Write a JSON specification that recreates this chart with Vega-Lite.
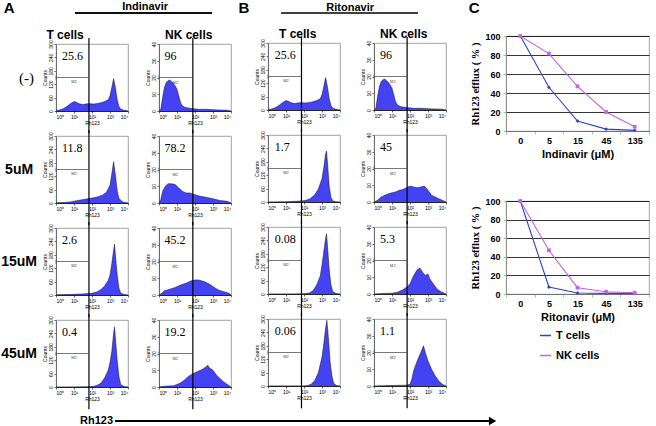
{
"$schema":"https://vega.github.io/schema/vega-lite/v6.json",
"background":"white",
"padding":{"left":0,"top":0,"right":0,"bottom":0},
"autosize":{"type":"pad"},
"config":{
 "font":"Liberation Sans",
 "view":{"stroke":"#8a8a8a","strokeWidth":0.8},
 "axis":{"labelFontSize":5,"titleFontSize":5,"titleFontWeight":"normal","tickSize":2,"labelPadding":1,"titlePadding":1,"domainColor":"black","tickColor":"black","labelColor":"black","titleColor":"black","grid":false,"domainWidth":0.8,"tickWidth":0.6,"labelFont":"Liberation Sans","titleFont":"Liberation Sans","labelOverlap":false},
 "title":{"color":"black","font":"Liberation Sans"}
},
"datasets":{
"h":[
{"col":"AT","conc":"(-)","label":"25.6"},
{"col":"AT","conc":"5uM","label":"11.8"},
{"col":"AT","conc":"15uM","label":"2.6"},
{"col":"AT","conc":"45uM","label":"0.4"},
{"col":"ANK","conc":"(-)","label":"96"},
{"col":"ANK","conc":"5uM","label":"78.2"},
{"col":"ANK","conc":"15uM","label":"45.2"},
{"col":"ANK","conc":"45uM","label":"19.2"},
{"col":"BT","conc":"(-)","label":"25.6"},
{"col":"BT","conc":"5uM","label":"1.7"},
{"col":"BT","conc":"15uM","label":"0.08"},
{"col":"BT","conc":"45uM","label":"0.06"},
{"col":"BNK","conc":"(-)","label":"96"},
{"col":"BNK","conc":"5uM","label":"45"},
{"col":"BNK","conc":"15uM","label":"5.3"},
{"col":"BNK","conc":"45uM","label":"1.1"},
{"col":"AT","conc":"(-)","x":0,"n":2},{"col":"AT","conc":"(-)","x":0.2,"n":5},{"col":"AT","conc":"(-)","x":0.4,"n":10},{"col":"AT","conc":"(-)","x":0.6,"n":20},{"col":"AT","conc":"(-)","x":0.8,"n":33},{"col":"AT","conc":"(-)","x":1,"n":42},{"col":"AT","conc":"(-)","x":1.1,"n":40},{"col":"AT","conc":"(-)","x":1.3,"n":32},{"col":"AT","conc":"(-)","x":1.5,"n":29},{"col":"AT","conc":"(-)","x":1.7,"n":32},{"col":"AT","conc":"(-)","x":1.9,"n":33},{"col":"AT","conc":"(-)","x":2.1,"n":31},{"col":"AT","conc":"(-)","x":2.3,"n":34},{"col":"AT","conc":"(-)","x":2.5,"n":37},{"col":"AT","conc":"(-)","x":2.7,"n":42},{"col":"AT","conc":"(-)","x":2.9,"n":50},{"col":"AT","conc":"(-)","x":3,"n":68},{"col":"AT","conc":"(-)","x":3.1,"n":105},{"col":"AT","conc":"(-)","x":3.2,"n":145},{"col":"AT","conc":"(-)","x":3.3,"n":105},{"col":"AT","conc":"(-)","x":3.4,"n":50},{"col":"AT","conc":"(-)","x":3.5,"n":20},{"col":"AT","conc":"(-)","x":3.6,"n":8},{"col":"AT","conc":"(-)","x":3.8,"n":3},{"col":"AT","conc":"(-)","x":4,"n":0},
{"col":"AT","conc":"5uM","x":0,"n":1},{"col":"AT","conc":"5uM","x":0.4,"n":2},{"col":"AT","conc":"5uM","x":0.8,"n":5},{"col":"AT","conc":"5uM","x":1.2,"n":11},{"col":"AT","conc":"5uM","x":1.6,"n":17},{"col":"AT","conc":"5uM","x":2,"n":22},{"col":"AT","conc":"5uM","x":2.3,"n":27},{"col":"AT","conc":"5uM","x":2.6,"n":36},{"col":"AT","conc":"5uM","x":2.8,"n":48},{"col":"AT","conc":"5uM","x":3,"n":80},{"col":"AT","conc":"5uM","x":3.1,"n":130},{"col":"AT","conc":"5uM","x":3.2,"n":185},{"col":"AT","conc":"5uM","x":3.3,"n":125},{"col":"AT","conc":"5uM","x":3.4,"n":55},{"col":"AT","conc":"5uM","x":3.5,"n":20},{"col":"AT","conc":"5uM","x":3.7,"n":5},{"col":"AT","conc":"5uM","x":4,"n":0},
{"col":"AT","conc":"15uM","x":0,"n":1},{"col":"AT","conc":"15uM","x":0.5,"n":2},{"col":"AT","conc":"15uM","x":1,"n":3},{"col":"AT","conc":"15uM","x":1.5,"n":5},{"col":"AT","conc":"15uM","x":2,"n":8},{"col":"AT","conc":"15uM","x":2.3,"n":15},{"col":"AT","conc":"15uM","x":2.5,"n":25},{"col":"AT","conc":"15uM","x":2.7,"n":40},{"col":"AT","conc":"15uM","x":2.9,"n":65},{"col":"AT","conc":"15uM","x":3,"n":90},{"col":"AT","conc":"15uM","x":3.1,"n":140},{"col":"AT","conc":"15uM","x":3.2,"n":200},{"col":"AT","conc":"15uM","x":3.25,"n":228},{"col":"AT","conc":"15uM","x":3.3,"n":180},{"col":"AT","conc":"15uM","x":3.4,"n":90},{"col":"AT","conc":"15uM","x":3.5,"n":30},{"col":"AT","conc":"15uM","x":3.6,"n":8},{"col":"AT","conc":"15uM","x":3.8,"n":2},{"col":"AT","conc":"15uM","x":4,"n":0},
{"col":"AT","conc":"45uM","x":0,"n":0},{"col":"AT","conc":"45uM","x":1,"n":0.5},{"col":"AT","conc":"45uM","x":1.8,"n":1},{"col":"AT","conc":"45uM","x":2.1,"n":3},{"col":"AT","conc":"45uM","x":2.3,"n":8},{"col":"AT","conc":"45uM","x":2.5,"n":18},{"col":"AT","conc":"45uM","x":2.7,"n":40},{"col":"AT","conc":"45uM","x":2.9,"n":75},{"col":"AT","conc":"45uM","x":3,"n":110},{"col":"AT","conc":"45uM","x":3.1,"n":160},{"col":"AT","conc":"45uM","x":3.2,"n":240},{"col":"AT","conc":"45uM","x":3.25,"n":269},{"col":"AT","conc":"45uM","x":3.3,"n":220},{"col":"AT","conc":"45uM","x":3.4,"n":120},{"col":"AT","conc":"45uM","x":3.5,"n":45},{"col":"AT","conc":"45uM","x":3.6,"n":10},{"col":"AT","conc":"45uM","x":3.8,"n":2},{"col":"AT","conc":"45uM","x":4,"n":0},
{"col":"ANK","conc":"(-)","x":0,"n":0},{"col":"ANK","conc":"(-)","x":0.1,"n":1},{"col":"ANK","conc":"(-)","x":0.2,"n":8},{"col":"ANK","conc":"(-)","x":0.3,"n":14},{"col":"ANK","conc":"(-)","x":0.4,"n":17},{"col":"ANK","conc":"(-)","x":0.5,"n":18},{"col":"ANK","conc":"(-)","x":0.6,"n":18.5},{"col":"ANK","conc":"(-)","x":0.7,"n":17.5},{"col":"ANK","conc":"(-)","x":0.8,"n":16.5},{"col":"ANK","conc":"(-)","x":0.9,"n":15},{"col":"ANK","conc":"(-)","x":1,"n":13},{"col":"ANK","conc":"(-)","x":1.1,"n":9},{"col":"ANK","conc":"(-)","x":1.2,"n":5},{"col":"ANK","conc":"(-)","x":1.3,"n":3},{"col":"ANK","conc":"(-)","x":1.5,"n":2},{"col":"ANK","conc":"(-)","x":1.8,"n":1.5},{"col":"ANK","conc":"(-)","x":2.2,"n":1},{"col":"ANK","conc":"(-)","x":2.6,"n":1},{"col":"ANK","conc":"(-)","x":3,"n":0.8},{"col":"ANK","conc":"(-)","x":3.4,"n":0.6},{"col":"ANK","conc":"(-)","x":3.8,"n":0.5},{"col":"ANK","conc":"(-)","x":4,"n":0},
{"col":"ANK","conc":"5uM","x":0,"n":0},{"col":"ANK","conc":"5uM","x":0.1,"n":2},{"col":"ANK","conc":"5uM","x":0.2,"n":7},{"col":"ANK","conc":"5uM","x":0.35,"n":10},{"col":"ANK","conc":"5uM","x":0.5,"n":11.5},{"col":"ANK","conc":"5uM","x":0.7,"n":11.5},{"col":"ANK","conc":"5uM","x":0.9,"n":11},{"col":"ANK","conc":"5uM","x":1.1,"n":9},{"col":"ANK","conc":"5uM","x":1.3,"n":7},{"col":"ANK","conc":"5uM","x":1.5,"n":6},{"col":"ANK","conc":"5uM","x":1.7,"n":6},{"col":"ANK","conc":"5uM","x":2,"n":5},{"col":"ANK","conc":"5uM","x":2.3,"n":4},{"col":"ANK","conc":"5uM","x":2.6,"n":3.5},{"col":"ANK","conc":"5uM","x":3,"n":2.5},{"col":"ANK","conc":"5uM","x":3.4,"n":1.5},{"col":"ANK","conc":"5uM","x":3.8,"n":1},{"col":"ANK","conc":"5uM","x":4,"n":0},
{"col":"ANK","conc":"15uM","x":0,"n":0},{"col":"ANK","conc":"15uM","x":0.15,"n":1},{"col":"ANK","conc":"15uM","x":0.3,"n":2.5},{"col":"ANK","conc":"15uM","x":0.6,"n":3.5},{"col":"ANK","conc":"15uM","x":0.9,"n":4.5},{"col":"ANK","conc":"15uM","x":1.2,"n":6},{"col":"ANK","conc":"15uM","x":1.5,"n":7},{"col":"ANK","conc":"15uM","x":1.8,"n":8.5},{"col":"ANK","conc":"15uM","x":2,"n":9},{"col":"ANK","conc":"15uM","x":2.2,"n":9},{"col":"ANK","conc":"15uM","x":2.5,"n":8},{"col":"ANK","conc":"15uM","x":2.8,"n":6.5},{"col":"ANK","conc":"15uM","x":3,"n":5},{"col":"ANK","conc":"15uM","x":3.3,"n":3},{"col":"ANK","conc":"15uM","x":3.6,"n":2},{"col":"ANK","conc":"15uM","x":3.9,"n":1},{"col":"ANK","conc":"15uM","x":4,"n":0},
{"col":"ANK","conc":"45uM","x":0,"n":0},{"col":"ANK","conc":"45uM","x":0.3,"n":0.5},{"col":"ANK","conc":"45uM","x":0.8,"n":0.8},{"col":"ANK","conc":"45uM","x":1,"n":1.5},{"col":"ANK","conc":"45uM","x":1.2,"n":2.5},{"col":"ANK","conc":"45uM","x":1.4,"n":4},{"col":"ANK","conc":"45uM","x":1.6,"n":6},{"col":"ANK","conc":"45uM","x":1.8,"n":7.5},{"col":"ANK","conc":"45uM","x":2,"n":8.5},{"col":"ANK","conc":"45uM","x":2.2,"n":9.5},{"col":"ANK","conc":"45uM","x":2.4,"n":10.5},{"col":"ANK","conc":"45uM","x":2.6,"n":12},{"col":"ANK","conc":"45uM","x":2.7,"n":13},{"col":"ANK","conc":"45uM","x":2.8,"n":11.5},{"col":"ANK","conc":"45uM","x":3,"n":10},{"col":"ANK","conc":"45uM","x":3.2,"n":7},{"col":"ANK","conc":"45uM","x":3.4,"n":5},{"col":"ANK","conc":"45uM","x":3.6,"n":3},{"col":"ANK","conc":"45uM","x":3.8,"n":1.5},{"col":"ANK","conc":"45uM","x":4,"n":0},
{"col":"BT","conc":"(-)","x":0,"n":2},{"col":"BT","conc":"(-)","x":0.2,"n":5},{"col":"BT","conc":"(-)","x":0.4,"n":10},{"col":"BT","conc":"(-)","x":0.6,"n":20},{"col":"BT","conc":"(-)","x":0.8,"n":33},{"col":"BT","conc":"(-)","x":1,"n":42},{"col":"BT","conc":"(-)","x":1.1,"n":40},{"col":"BT","conc":"(-)","x":1.3,"n":32},{"col":"BT","conc":"(-)","x":1.5,"n":29},{"col":"BT","conc":"(-)","x":1.7,"n":32},{"col":"BT","conc":"(-)","x":1.9,"n":33},{"col":"BT","conc":"(-)","x":2.1,"n":31},{"col":"BT","conc":"(-)","x":2.3,"n":34},{"col":"BT","conc":"(-)","x":2.5,"n":37},{"col":"BT","conc":"(-)","x":2.7,"n":42},{"col":"BT","conc":"(-)","x":2.9,"n":50},{"col":"BT","conc":"(-)","x":3,"n":68},{"col":"BT","conc":"(-)","x":3.1,"n":105},{"col":"BT","conc":"(-)","x":3.2,"n":145},{"col":"BT","conc":"(-)","x":3.3,"n":105},{"col":"BT","conc":"(-)","x":3.4,"n":50},{"col":"BT","conc":"(-)","x":3.5,"n":20},{"col":"BT","conc":"(-)","x":3.6,"n":8},{"col":"BT","conc":"(-)","x":3.8,"n":3},{"col":"BT","conc":"(-)","x":4,"n":0},
{"col":"BT","conc":"5uM","x":0,"n":0},{"col":"BT","conc":"5uM","x":1,"n":1},{"col":"BT","conc":"5uM","x":1.5,"n":3},{"col":"BT","conc":"5uM","x":2,"n":6},{"col":"BT","conc":"5uM","x":2.3,"n":12},{"col":"BT","conc":"5uM","x":2.6,"n":33},{"col":"BT","conc":"5uM","x":2.8,"n":58},{"col":"BT","conc":"5uM","x":3,"n":105},{"col":"BT","conc":"5uM","x":3.1,"n":155},{"col":"BT","conc":"5uM","x":3.2,"n":215},{"col":"BT","conc":"5uM","x":3.25,"n":228},{"col":"BT","conc":"5uM","x":3.3,"n":180},{"col":"BT","conc":"5uM","x":3.4,"n":70},{"col":"BT","conc":"5uM","x":3.5,"n":20},{"col":"BT","conc":"5uM","x":3.6,"n":5},{"col":"BT","conc":"5uM","x":3.8,"n":1},{"col":"BT","conc":"5uM","x":4,"n":0},
{"col":"BT","conc":"15uM","x":0,"n":0},{"col":"BT","conc":"15uM","x":1.5,"n":0.5},{"col":"BT","conc":"15uM","x":2,"n":1},{"col":"BT","conc":"15uM","x":2.3,"n":5},{"col":"BT","conc":"15uM","x":2.5,"n":15},{"col":"BT","conc":"15uM","x":2.7,"n":40},{"col":"BT","conc":"15uM","x":2.9,"n":80},{"col":"BT","conc":"15uM","x":3,"n":130},{"col":"BT","conc":"15uM","x":3.1,"n":190},{"col":"BT","conc":"15uM","x":3.2,"n":250},{"col":"BT","conc":"15uM","x":3.25,"n":270},{"col":"BT","conc":"15uM","x":3.3,"n":220},{"col":"BT","conc":"15uM","x":3.4,"n":110},{"col":"BT","conc":"15uM","x":3.5,"n":40},{"col":"BT","conc":"15uM","x":3.6,"n":10},{"col":"BT","conc":"15uM","x":3.8,"n":2},{"col":"BT","conc":"15uM","x":4,"n":0},
{"col":"BT","conc":"45uM","x":0,"n":0},{"col":"BT","conc":"45uM","x":2,"n":0.5},{"col":"BT","conc":"45uM","x":2.2,"n":2},{"col":"BT","conc":"45uM","x":2.4,"n":8},{"col":"BT","conc":"45uM","x":2.6,"n":25},{"col":"BT","conc":"45uM","x":2.8,"n":60},{"col":"BT","conc":"45uM","x":3,"n":130},{"col":"BT","conc":"45uM","x":3.1,"n":190},{"col":"BT","conc":"45uM","x":3.2,"n":260},{"col":"BT","conc":"45uM","x":3.27,"n":294},{"col":"BT","conc":"45uM","x":3.35,"n":220},{"col":"BT","conc":"45uM","x":3.45,"n":110},{"col":"BT","conc":"45uM","x":3.55,"n":45},{"col":"BT","conc":"45uM","x":3.65,"n":12},{"col":"BT","conc":"45uM","x":3.8,"n":2},{"col":"BT","conc":"45uM","x":4,"n":0},
{"col":"BNK","conc":"(-)","x":0,"n":0},{"col":"BNK","conc":"(-)","x":0.1,"n":1},{"col":"BNK","conc":"(-)","x":0.2,"n":8},{"col":"BNK","conc":"(-)","x":0.3,"n":14},{"col":"BNK","conc":"(-)","x":0.4,"n":17},{"col":"BNK","conc":"(-)","x":0.5,"n":18},{"col":"BNK","conc":"(-)","x":0.6,"n":18.5},{"col":"BNK","conc":"(-)","x":0.7,"n":17.5},{"col":"BNK","conc":"(-)","x":0.8,"n":16.5},{"col":"BNK","conc":"(-)","x":0.9,"n":15},{"col":"BNK","conc":"(-)","x":1,"n":13},{"col":"BNK","conc":"(-)","x":1.1,"n":9},{"col":"BNK","conc":"(-)","x":1.2,"n":5},{"col":"BNK","conc":"(-)","x":1.3,"n":3},{"col":"BNK","conc":"(-)","x":1.5,"n":2},{"col":"BNK","conc":"(-)","x":1.8,"n":1.5},{"col":"BNK","conc":"(-)","x":2.2,"n":1},{"col":"BNK","conc":"(-)","x":2.6,"n":1},{"col":"BNK","conc":"(-)","x":3,"n":0.8},{"col":"BNK","conc":"(-)","x":3.4,"n":0.6},{"col":"BNK","conc":"(-)","x":3.8,"n":0.5},{"col":"BNK","conc":"(-)","x":4,"n":0},
{"col":"BNK","conc":"5uM","x":0,"n":0},{"col":"BNK","conc":"5uM","x":0.2,"n":1},{"col":"BNK","conc":"5uM","x":0.4,"n":3},{"col":"BNK","conc":"5uM","x":0.6,"n":4},{"col":"BNK","conc":"5uM","x":0.8,"n":5},{"col":"BNK","conc":"5uM","x":1,"n":5.5},{"col":"BNK","conc":"5uM","x":1.2,"n":6},{"col":"BNK","conc":"5uM","x":1.4,"n":7},{"col":"BNK","conc":"5uM","x":1.6,"n":7.5},{"col":"BNK","conc":"5uM","x":1.8,"n":8.5},{"col":"BNK","conc":"5uM","x":2,"n":9.5},{"col":"BNK","conc":"5uM","x":2.2,"n":9},{"col":"BNK","conc":"5uM","x":2.4,"n":8.5},{"col":"BNK","conc":"5uM","x":2.6,"n":9},{"col":"BNK","conc":"5uM","x":2.8,"n":9.5},{"col":"BNK","conc":"5uM","x":3,"n":7},{"col":"BNK","conc":"5uM","x":3.2,"n":4},{"col":"BNK","conc":"5uM","x":3.4,"n":3},{"col":"BNK","conc":"5uM","x":3.6,"n":2},{"col":"BNK","conc":"5uM","x":3.8,"n":1},{"col":"BNK","conc":"5uM","x":4,"n":0},
{"col":"BNK","conc":"15uM","x":0,"n":0},{"col":"BNK","conc":"15uM","x":0.5,"n":0.3},{"col":"BNK","conc":"15uM","x":1,"n":0.5},{"col":"BNK","conc":"15uM","x":1.3,"n":1},{"col":"BNK","conc":"15uM","x":1.6,"n":2.5},{"col":"BNK","conc":"15uM","x":1.8,"n":4},{"col":"BNK","conc":"15uM","x":2,"n":6},{"col":"BNK","conc":"15uM","x":2.2,"n":11},{"col":"BNK","conc":"15uM","x":2.4,"n":14.5},{"col":"BNK","conc":"15uM","x":2.55,"n":15.5},{"col":"BNK","conc":"15uM","x":2.7,"n":13},{"col":"BNK","conc":"15uM","x":2.85,"n":11},{"col":"BNK","conc":"15uM","x":3,"n":12},{"col":"BNK","conc":"15uM","x":3.1,"n":9},{"col":"BNK","conc":"15uM","x":3.3,"n":6},{"col":"BNK","conc":"15uM","x":3.5,"n":3},{"col":"BNK","conc":"15uM","x":3.7,"n":1.5},{"col":"BNK","conc":"15uM","x":3.9,"n":0.5},{"col":"BNK","conc":"15uM","x":4,"n":0},
{"col":"BNK","conc":"45uM","x":0,"n":0},{"col":"BNK","conc":"45uM","x":1,"n":0.3},{"col":"BNK","conc":"45uM","x":1.8,"n":0.5},{"col":"BNK","conc":"45uM","x":2,"n":1},{"col":"BNK","conc":"45uM","x":2.1,"n":4},{"col":"BNK","conc":"45uM","x":2.2,"n":9},{"col":"BNK","conc":"45uM","x":2.4,"n":15},{"col":"BNK","conc":"45uM","x":2.6,"n":20},{"col":"BNK","conc":"45uM","x":2.75,"n":24},{"col":"BNK","conc":"45uM","x":2.85,"n":20},{"col":"BNK","conc":"45uM","x":3,"n":15},{"col":"BNK","conc":"45uM","x":3.2,"n":10},{"col":"BNK","conc":"45uM","x":3.4,"n":6},{"col":"BNK","conc":"45uM","x":3.6,"n":3},{"col":"BNK","conc":"45uM","x":3.8,"n":1},{"col":"BNK","conc":"45uM","x":4,"n":0}
],
"c":[
{"drug":"Indinavir","conc":"0","cell":"T cells","v":100},{"drug":"Indinavir","conc":"5","cell":"T cells","v":46},{"drug":"Indinavir","conc":"15","cell":"T cells","v":10.5},{"drug":"Indinavir","conc":"45","cell":"T cells","v":2},{"drug":"Indinavir","conc":"135","cell":"T cells","v":0.7},
{"drug":"Indinavir","conc":"0","cell":"NK cells","v":100},{"drug":"Indinavir","conc":"5","cell":"NK cells","v":81.5},{"drug":"Indinavir","conc":"15","cell":"NK cells","v":47},{"drug":"Indinavir","conc":"45","cell":"NK cells","v":20},{"drug":"Indinavir","conc":"135","cell":"NK cells","v":4.5},
{"drug":"Ritonavir","conc":"0","cell":"T cells","v":100},{"drug":"Ritonavir","conc":"5","cell":"T cells","v":7.5},{"drug":"Ritonavir","conc":"15","cell":"T cells","v":1},{"drug":"Ritonavir","conc":"45","cell":"T cells","v":0.7},{"drug":"Ritonavir","conc":"135","cell":"T cells","v":0.7},
{"drug":"Ritonavir","conc":"0","cell":"NK cells","v":100},{"drug":"Ritonavir","conc":"5","cell":"NK cells","v":47},{"drug":"Ritonavir","conc":"15","cell":"NK cells","v":6.8},{"drug":"Ritonavir","conc":"45","cell":"NK cells","v":2.5},{"drug":"Ritonavir","conc":"135","cell":"NK cells","v":1.4}
]
},
"spacing":4,
"vconcat":[
{"spacing":20,"hconcat":[
 {"spacing":4,"hconcat":[
  {"spacing":14,"vconcat":[
   {"width":156,"height":12,"view":{"stroke":null},"data":{"values":[{"drug":"Indinavir"}]},
    "title":{"text":"Indinavir","anchor":"end","frame":"group","fontSize":11,"fontWeight":"bold","offset":-12,"dx":-44},
    "layer":[
     {"mark":{"type":"rule","color":"black","strokeWidth":1.3},
      "encoding":{"x":{"datum":0.122,"type":"quantitative","scale":{"domain":[0,1]},"axis":null},"x2":{"datum":1},
       "y":{"datum":0,"type":"quantitative","scale":{"domain":[0,1]},"axis":{"title":"A","orient":"left","labels":false,"ticks":false,"domain":false,"grid":false,"titleAngle":0,"titleFontSize":15,"titleFontWeight":"bold","titlePadding":42,"titleAlign":"right","titleBaseline":"middle"}}}},
     {"mark":{"type":"rule","color":"black","strokeWidth":1.3},
      "encoding":{"x":{"datum":0.122},"x2":{"datum":1},
       "y":{"datum":0,"type":"quantitative","scale":{"domain":[0,1]},"axis":{"title":"B","orient":"right","labels":false,"ticks":false,"domain":false,"grid":false,"titleAngle":0,"titleFontSize":15,"titleFontWeight":"bold","titlePadding":26,"titleAlign":"left","titleBaseline":"middle"}}}}
    ],
    "resolve":{"scale":{"y":"independent"}}},
   {"spacing":15,"hconcat":[
     {"data":{"name":"h"},"transform":[{"filter":"datum.col=='AT'"}],
      "title":{"text":"T cells","frame":"bounds","anchor":"middle","fontSize":12,"fontWeight":"bold","offset":-5.5},
      "facet":{"row":{"field":"conc","type":"nominal","sort":["(-)","5uM","15uM","45uM"],"header":{"title":null,"labels":false}}},
      "spacing":25,"bounds":"flush","resolve":{"axis":{"x":"independent"}},
      "spec":{"width":72,"height":67,"layer":[
       {"transform":[{"filter":"isValid(datum.n)"}],"mark":{"type":"area","color":"#4343f3","opacity":1,"line":{"color":"#111","strokeWidth":0.5}},
        "encoding":{"x":{"field":"x","type":"quantitative","scale":{"domain":[0,4]},"axis":{"values":[0,1,2,3,4],"labelExpr":"'10'+['⁰','¹','²','³','⁴'][datum.value]","title":"Rh123"}},
         "y":{"field":"n","type":"quantitative","scale":{"domain":[0,300]},"axis":{"values":[0,60,120,180,240,300],"title":"Counts","labelAngle":270}}}},
       {"transform":[{"filter":"isValid(datum.label)"}],"mark":{"type":"rule","color":"black","strokeWidth":1.2},"encoding":{"x":{"datum":1.83,"type":"quantitative","axis":{"values":[0,1,2,3,4],"labelExpr":"'10'+['⁰','¹','²','³','⁴'][datum.value]","title":"Rh123"}},"y":{"datum":-100,"type":"quantitative","axis":{"values":[0,60,120,180,240,300],"title":"Counts","labelAngle":270}},"y2":{"datum":327}}},
       {"transform":[{"filter":"isValid(datum.label)"}],"mark":{"type":"rule","color":"#555","strokeWidth":0.8},"encoding":{"x":{"datum":0,"type":"quantitative","axis":{"values":[0,1,2,3,4],"labelExpr":"'10'+['⁰','¹','²','³','⁴'][datum.value]","title":"Rh123"}},"x2":{"datum":1.83},"y":{"datum":150,"type":"quantitative","axis":{"values":[0,60,120,180,240,300],"title":"Counts","labelAngle":270}}}},
       {"transform":[{"filter":"isValid(datum.label)"}],"mark":{"type":"rule","color":"#555","strokeWidth":0.8},"encoding":{"x":{"datum":0,"type":"quantitative","axis":{"values":[0,1,2,3,4],"labelExpr":"'10'+['⁰','¹','²','³','⁴'][datum.value]","title":"Rh123"}},"y":{"datum":141,"type":"quantitative","axis":{"values":[0,60,120,180,240,300],"title":"Counts","labelAngle":270}},"y2":{"datum":159}}},
       {"transform":[{"filter":"isValid(datum.label)"}],"mark":{"type":"text","text":"M2","fontSize":4,"color":"#444"},"encoding":{"x":{"datum":1.0,"type":"quantitative","axis":{"values":[0,1,2,3,4],"labelExpr":"'10'+['⁰','¹','²','³','⁴'][datum.value]","title":"Rh123"}},"y":{"datum":128,"type":"quantitative","axis":{"values":[0,60,120,180,240,300],"title":"Counts","labelAngle":270}}}},
       {"transform":[{"filter":"isValid(datum.label)"}],"mark":{"type":"text","font":"Liberation Serif","fontSize":12,"align":"left","baseline":"middle","color":"black"},"encoding":{"x":{"datum":0.33,"type":"quantitative","axis":{"values":[0,1,2,3,4],"labelExpr":"'10'+['⁰','¹','²','³','⁴'][datum.value]","title":"Rh123"}},"y":{"datum":245,"type":"quantitative","axis":{"values":[0,60,120,180,240,300],"title":"Counts","labelAngle":270}},"text":{"field":"label"}}},
       {"transform":[{"filter":"isValid(datum.label) && datum.conc!='(-)'"}],"mark":{"type":"text","fontSize":14,"fontWeight":"bold","align":"center","baseline":"middle","color":"black"},"encoding":{"x":{"datum":-2.05,"type":"quantitative","axis":{"values":[0,1,2,3,4],"labelExpr":"'10'+['⁰','¹','²','³','⁴'][datum.value]","title":"Rh123"}},"y":{"datum":150,"type":"quantitative","axis":{"values":[0,60,120,180,240,300],"title":"Counts","labelAngle":270}},"text":{"field":"conc"}}},
       {"transform":[{"filter":"isValid(datum.label) && datum.conc=='(-)'"}],"mark":{"type":"text","font":"Liberation Serif","fontSize":15,"align":"center","baseline":"middle","color":"black"},"encoding":{"x":{"datum":-1.64,"type":"quantitative","axis":{"values":[0,1,2,3,4],"labelExpr":"'10'+['⁰','¹','²','³','⁴'][datum.value]","title":"Rh123"}},"y":{"datum":150,"type":"quantitative","axis":{"values":[0,60,120,180,240,300],"title":"Counts","labelAngle":270}},"text":{"field":"conc"}}}
      ]}},
     {"data":{"name":"h"},"transform":[{"filter":"datum.col=='ANK'"}],
      "title":{"text":"NK cells","frame":"bounds","anchor":"middle","fontSize":12,"fontWeight":"bold","offset":-5.5},
      "facet":{"row":{"field":"conc","type":"nominal","sort":["(-)","5uM","15uM","45uM"],"header":{"title":null,"labels":false}}},
      "spacing":25,"bounds":"flush","resolve":{"axis":{"x":"independent"}},
      "spec":{"width":72,"height":67,"layer":[
       {"transform":[{"filter":"isValid(datum.n)"}],"mark":{"type":"area","color":"#4343f3","opacity":1,"line":{"color":"#111","strokeWidth":0.5}},
        "encoding":{"x":{"field":"x","type":"quantitative","scale":{"domain":[0,4]},"axis":{"values":[0,1,2,3,4],"labelExpr":"'10'+['⁰','¹','²','³','⁴'][datum.value]","title":"Rh123"}},
         "y":{"field":"n","type":"quantitative","scale":{"domain":[0,40]},"axis":{"values":[0,10,20,30,40],"title":"Counts","labelAngle":270}}}},
       {"transform":[{"filter":"isValid(datum.label)"}],"mark":{"type":"rule","color":"black","strokeWidth":1.2},"encoding":{"x":{"datum":1.88,"type":"quantitative","axis":{"values":[0,1,2,3,4],"labelExpr":"'10'+['⁰','¹','²','³','⁴'][datum.value]","title":"Rh123"}},"y":{"datum":-13.3,"type":"quantitative","axis":{"values":[0,10,20,30,40],"title":"Counts","labelAngle":270}},"y2":{"datum":43.6}}},
       {"transform":[{"filter":"isValid(datum.label)"}],"mark":{"type":"rule","color":"#555","strokeWidth":0.8},"encoding":{"x":{"datum":0,"type":"quantitative","axis":{"values":[0,1,2,3,4],"labelExpr":"'10'+['⁰','¹','²','³','⁴'][datum.value]","title":"Rh123"}},"x2":{"datum":1.88},"y":{"datum":20,"type":"quantitative","axis":{"values":[0,10,20,30,40],"title":"Counts","labelAngle":270}}}},
       {"transform":[{"filter":"isValid(datum.label)"}],"mark":{"type":"rule","color":"#555","strokeWidth":0.8},"encoding":{"x":{"datum":0,"type":"quantitative","axis":{"values":[0,1,2,3,4],"labelExpr":"'10'+['⁰','¹','²','³','⁴'][datum.value]","title":"Rh123"}},"y":{"datum":18.8,"type":"quantitative","axis":{"values":[0,10,20,30,40],"title":"Counts","labelAngle":270}},"y2":{"datum":21.2}}},
       {"transform":[{"filter":"isValid(datum.label)"}],"mark":{"type":"text","text":"M2","fontSize":4,"color":"#444"},"encoding":{"x":{"datum":0.9,"type":"quantitative","axis":{"values":[0,1,2,3,4],"labelExpr":"'10'+['⁰','¹','²','³','⁴'][datum.value]","title":"Rh123"}},"y":{"datum":17,"type":"quantitative","axis":{"values":[0,10,20,30,40],"title":"Counts","labelAngle":270}}}},
       {"transform":[{"filter":"isValid(datum.label)"}],"mark":{"type":"text","font":"Liberation Serif","fontSize":12,"align":"left","baseline":"middle","color":"black"},"encoding":{"x":{"datum":0.3,"type":"quantitative","axis":{"values":[0,1,2,3,4],"labelExpr":"'10'+['⁰','¹','²','³','⁴'][datum.value]","title":"Rh123"}},"y":{"datum":32.7,"type":"quantitative","axis":{"values":[0,10,20,30,40],"title":"Counts","labelAngle":270}},"text":{"field":"label"}}}
      ]}}
   ]}
  ]},
  {"spacing":14,"vconcat":[
   {"width":150,"height":12,"view":{"stroke":null},"data":{"values":[{"drug":"Ritonavir"}]},
    "title":{"text":"Ritonavir","anchor":"end","frame":"group","fontSize":11,"fontWeight":"bold","offset":-12,"dx":-44},
    "mark":{"type":"rule","color":"black","strokeWidth":1.3},
    "encoding":{"x":{"datum":0.087,"type":"quantitative","scale":{"domain":[0,1]},"axis":null},"x2":{"datum":1},
     "y":{"datum":0,"type":"quantitative","scale":{"domain":[0,1]},"axis":null}}},
   {"spacing":18,"hconcat":[
     {"data":{"name":"h"},"transform":[{"filter":"datum.col=='BT'"}],
      "title":{"text":"T cells","frame":"bounds","anchor":"middle","fontSize":12,"fontWeight":"bold","offset":-5.5},
      "facet":{"row":{"field":"conc","type":"nominal","sort":["(-)","5uM","15uM","45uM"],"header":{"title":null,"labels":false}}},
      "spacing":25,"bounds":"flush","resolve":{"axis":{"x":"independent"}},
      "spec":{"width":72,"height":67,"layer":[
       {"transform":[{"filter":"isValid(datum.n)"}],"mark":{"type":"area","color":"#4343f3","opacity":1,"line":{"color":"#111","strokeWidth":0.5}},
        "encoding":{"x":{"field":"x","type":"quantitative","scale":{"domain":[0,4]},"axis":{"values":[0,1,2,3,4],"labelExpr":"'10'+['⁰','¹','²','³','⁴'][datum.value]","title":"Rh123"}},
         "y":{"field":"n","type":"quantitative","scale":{"domain":[0,300]},"axis":{"values":[0,60,120,180,240,300],"title":"Counts","labelAngle":270}}}},
       {"transform":[{"filter":"isValid(datum.label)"}],"mark":{"type":"rule","color":"black","strokeWidth":1.2},"encoding":{"x":{"datum":1.86,"type":"quantitative","axis":{"values":[0,1,2,3,4],"labelExpr":"'10'+['⁰','¹','²','³','⁴'][datum.value]","title":"Rh123"}},"y":{"datum":-100,"type":"quantitative","axis":{"values":[0,60,120,180,240,300],"title":"Counts","labelAngle":270}},"y2":{"datum":327}}},
       {"transform":[{"filter":"isValid(datum.label)"}],"mark":{"type":"rule","color":"#555","strokeWidth":0.8},"encoding":{"x":{"datum":0,"type":"quantitative","axis":{"values":[0,1,2,3,4],"labelExpr":"'10'+['⁰','¹','²','³','⁴'][datum.value]","title":"Rh123"}},"x2":{"datum":1.86},"y":{"datum":150,"type":"quantitative","axis":{"values":[0,60,120,180,240,300],"title":"Counts","labelAngle":270}}}},
       {"transform":[{"filter":"isValid(datum.label)"}],"mark":{"type":"rule","color":"#555","strokeWidth":0.8},"encoding":{"x":{"datum":0,"type":"quantitative","axis":{"values":[0,1,2,3,4],"labelExpr":"'10'+['⁰','¹','²','³','⁴'][datum.value]","title":"Rh123"}},"y":{"datum":141,"type":"quantitative","axis":{"values":[0,60,120,180,240,300],"title":"Counts","labelAngle":270}},"y2":{"datum":159}}},
       {"transform":[{"filter":"isValid(datum.label)"}],"mark":{"type":"text","text":"M2","fontSize":4,"color":"#444"},"encoding":{"x":{"datum":1.0,"type":"quantitative","axis":{"values":[0,1,2,3,4],"labelExpr":"'10'+['⁰','¹','²','³','⁴'][datum.value]","title":"Rh123"}},"y":{"datum":128,"type":"quantitative","axis":{"values":[0,60,120,180,240,300],"title":"Counts","labelAngle":270}}}},
       {"transform":[{"filter":"isValid(datum.label)"}],"mark":{"type":"text","font":"Liberation Serif","fontSize":12,"align":"left","baseline":"middle","color":"black"},"encoding":{"x":{"datum":0.38,"type":"quantitative","axis":{"values":[0,1,2,3,4],"labelExpr":"'10'+['⁰','¹','²','³','⁴'][datum.value]","title":"Rh123"}},"y":{"datum":245,"type":"quantitative","axis":{"values":[0,60,120,180,240,300],"title":"Counts","labelAngle":270}},"text":{"field":"label"}}}
      ]}},
     {"data":{"name":"h"},"transform":[{"filter":"datum.col=='BNK'"}],
      "title":{"text":"NK cells","frame":"bounds","anchor":"middle","fontSize":12,"fontWeight":"bold","offset":-5.5},
      "facet":{"row":{"field":"conc","type":"nominal","sort":["(-)","5uM","15uM","45uM"],"header":{"title":null,"labels":false}}},
      "spacing":25,"bounds":"flush","resolve":{"axis":{"x":"independent"}},
      "spec":{"width":72,"height":67,"layer":[
       {"transform":[{"filter":"isValid(datum.n)"}],"mark":{"type":"area","color":"#4343f3","opacity":1,"line":{"color":"#111","strokeWidth":0.5}},
        "encoding":{"x":{"field":"x","type":"quantitative","scale":{"domain":[0,4]},"axis":{"values":[0,1,2,3,4],"labelExpr":"'10'+['⁰','¹','²','³','⁴'][datum.value]","title":"Rh123"}},
         "y":{"field":"n","type":"quantitative","scale":{"domain":[0,40]},"axis":{"values":[0,10,20,30,40],"title":"Counts","labelAngle":270}}}},
       {"transform":[{"filter":"isValid(datum.label)"}],"mark":{"type":"rule","color":"black","strokeWidth":1.2},"encoding":{"x":{"datum":1.84,"type":"quantitative","axis":{"values":[0,1,2,3,4],"labelExpr":"'10'+['⁰','¹','²','³','⁴'][datum.value]","title":"Rh123"}},"y":{"datum":-13.3,"type":"quantitative","axis":{"values":[0,10,20,30,40],"title":"Counts","labelAngle":270}},"y2":{"datum":43.6}}},
       {"transform":[{"filter":"isValid(datum.label)"}],"mark":{"type":"rule","color":"#555","strokeWidth":0.8},"encoding":{"x":{"datum":0,"type":"quantitative","axis":{"values":[0,1,2,3,4],"labelExpr":"'10'+['⁰','¹','²','³','⁴'][datum.value]","title":"Rh123"}},"x2":{"datum":1.84},"y":{"datum":20,"type":"quantitative","axis":{"values":[0,10,20,30,40],"title":"Counts","labelAngle":270}}}},
       {"transform":[{"filter":"isValid(datum.label)"}],"mark":{"type":"rule","color":"#555","strokeWidth":0.8},"encoding":{"x":{"datum":0,"type":"quantitative","axis":{"values":[0,1,2,3,4],"labelExpr":"'10'+['⁰','¹','²','³','⁴'][datum.value]","title":"Rh123"}},"y":{"datum":18.8,"type":"quantitative","axis":{"values":[0,10,20,30,40],"title":"Counts","labelAngle":270}},"y2":{"datum":21.2}}},
       {"transform":[{"filter":"isValid(datum.label)"}],"mark":{"type":"text","text":"M2","fontSize":4,"color":"#444"},"encoding":{"x":{"datum":1.05,"type":"quantitative","axis":{"values":[0,1,2,3,4],"labelExpr":"'10'+['⁰','¹','²','³','⁴'][datum.value]","title":"Rh123"}},"y":{"datum":17,"type":"quantitative","axis":{"values":[0,10,20,30,40],"title":"Counts","labelAngle":270}}}},
       {"transform":[{"filter":"isValid(datum.label)"}],"mark":{"type":"text","font":"Liberation Serif","fontSize":12,"align":"left","baseline":"middle","color":"black"},"encoding":{"x":{"datum":0.33,"type":"quantitative","axis":{"values":[0,1,2,3,4],"labelExpr":"'10'+['⁰','¹','²','³','⁴'][datum.value]","title":"Rh123"}},"y":{"datum":32.7,"type":"quantitative","axis":{"values":[0,10,20,30,40],"title":"Counts","labelAngle":270}},"text":{"field":"label"}}}
      ]}}
   ]}
  ]}
 ]},
 {"spacing":16,"vconcat":[
  {"width":143,"height":12,"view":{"stroke":null},"data":{"values":[{"panel":"C"}]},
   "mark":{"type":"rule","opacity":0},
   "encoding":{"y":{"datum":0,"type":"quantitative","scale":{"domain":[0,1]},"axis":{"title":"C","orient":"left","labels":false,"ticks":false,"domain":false,"grid":false,"titleAngle":0,"titleFontSize":15,"titleFontWeight":"bold","titlePadding":27,"titleAlign":"right","titleBaseline":"middle"}}}},
  {"spacing":36,
   "resolve":{"legend":{"color":"independent"}},
   "vconcat":[
   {"width":143,"height":95,"data":{"name":"c"},"transform":[{"filter":"datum.drug=='Indinavir'"}],
    "encoding":{
     "x":{"field":"conc","type":"ordinal","sort":["0","5","15","45","135"],"bandPosition":0.5,"scale":{"type":"band","paddingInner":0,"paddingOuter":0},
      "axis":{"title":"Indinavir (μM)","titleFontSize":11,"titleFontWeight":"bold","titlePadding":3,"labelFontSize":9,"labelFontWeight":"bold","labelAngle":0,"labelPadding":2,"tickBand":"extent","tickSize":3,"tickColor":"#888","domainColor":"#888"}},
     "y":{"field":"v","type":"quantitative","scale":{"domain":[0,100]},
      "axis":{"title":"Rh123 efflux ( % )","titleFont":"Liberation Serif","titleFontSize":10.5,"titleFontWeight":"bold","titlePadding":4,"values":[0,20,40,60,80,100],"tickCount":6,"labelOverlap":false,"labelSeparation":0,"labelFontSize":9,"labelFontWeight":"bold","labelPadding":3,"tickSize":3,"tickColor":"#888","domainColor":"#888","grid":true,"gridColor":"black","gridWidth":0.8}}},
    "layer":[
     {"mark":{"type":"line","strokeWidth":1.1},
      "encoding":{"color":{"field":"cell","type":"nominal","scale":{"domain":["T cells","NK cells"],"range":["#2e42c6","#c066e6"]},"legend":null}}},
     {"mark":{"type":"point","filled":true,"size":14,"opacity":1},
      "encoding":{
       "fill":{"field":"cell","type":"nominal","scale":{"domain":["T cells","NK cells"],"range":["#2e42c6","#c066e6"]},"legend":null},
       "shape":{"field":"cell","type":"nominal","scale":{"domain":["T cells","NK cells"],"range":["diamond","square"]},"legend":null}}}
    ]},
   {"width":143,"height":93,"data":{"name":"c"},"transform":[{"filter":"datum.drug=='Ritonavir'"}],
    "encoding":{
     "x":{"field":"conc","type":"ordinal","sort":["0","5","15","45","135"],"bandPosition":0.5,"scale":{"type":"band","paddingInner":0,"paddingOuter":0},
      "axis":{"title":"Ritonavir (μM)","titleFontSize":11,"titleFontWeight":"bold","titlePadding":3,"labelFontSize":9,"labelFontWeight":"bold","labelAngle":0,"labelPadding":2,"tickBand":"extent","tickSize":3,"tickColor":"#888","domainColor":"#888"}},
     "y":{"field":"v","type":"quantitative","scale":{"domain":[0,100]},
      "axis":{"title":"Rh123 efflux ( % )","titleFont":"Liberation Serif","titleFontSize":10.5,"titleFontWeight":"bold","titlePadding":4,"values":[0,20,40,60,80,100],"tickCount":6,"labelOverlap":false,"labelSeparation":0,"labelFontSize":9,"labelFontWeight":"bold","labelPadding":3,"tickSize":3,"tickColor":"#888","domainColor":"#888","grid":true,"gridColor":"black","gridWidth":0.8}}},
    "layer":[
     {"mark":{"type":"line","strokeWidth":1.1},
      "encoding":{"color":{"field":"cell","type":"nominal","scale":{"domain":["T cells","NK cells"],"range":["#2e42c6","#c066e6"]},
        "legend":{"title":null,"orient":"bottom","direction":"vertical","labelFontSize":11,"labelFontWeight":"bold","labelColor":"black","symbolType":"stroke","symbolStrokeWidth":1.5,"symbolSize":120,"rowPadding":8,"offset":7,"symbolOffset":33}}}},
     {"mark":{"type":"point","filled":true,"size":14,"opacity":1},
      "encoding":{
       "fill":{"field":"cell","type":"nominal","scale":{"domain":["T cells","NK cells"],"range":["#2e42c6","#c066e6"]},"legend":null},
       "shape":{"field":"cell","type":"nominal","scale":{"domain":["T cells","NK cells"],"range":["diamond","square"]},"legend":null}}}
    ]}
  ]}
 ]}
]},
{"width":441,"height":12,"view":{"stroke":null},"data":{"values":[{"label":"Rh123"}]},
 "layer":[
  {"mark":{"type":"rule","color":"black","strokeWidth":2},"encoding":{"x":{"datum":0.134,"type":"quantitative","scale":{"domain":[0,1]},"axis":null},"x2":{"datum":0.985},
    "y":{"datum":0.5,"type":"quantitative","scale":{"domain":[0,1]},"axis":null}}},
  {"mark":{"type":"point","shape":"triangle-right","filled":true,"color":"black","size":70,"opacity":1},"encoding":{"x":{"datum":0.99},"y":{"datum":0.5}}},
  {"mark":{"type":"text","fontSize":11,"fontWeight":"bold","align":"center","baseline":"middle","color":"black"},"encoding":{"x":{"datum":0.092},"y":{"datum":0.5},"text":{"field":"label"}}}
 ]}
]
}
